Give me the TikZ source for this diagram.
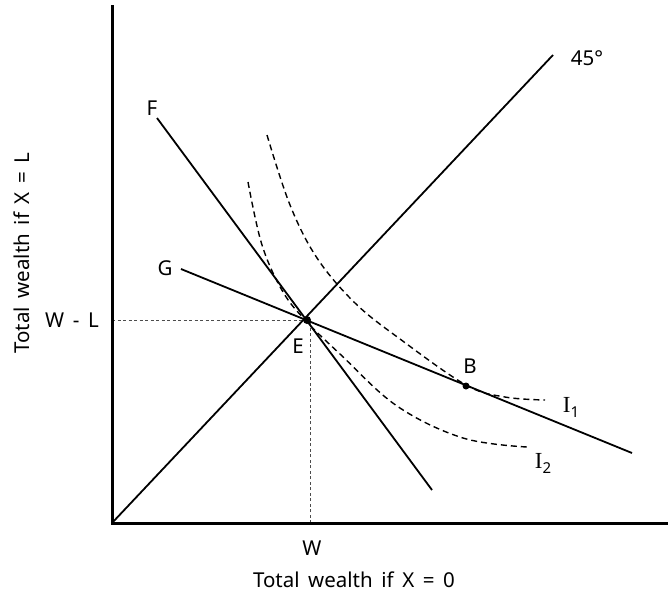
\documentclass[tikz,border=0pt]{standalone}
\usepackage{fontspec}
\setmainfont{Noto Sans}
\newfontfamily\serifI{Liberation Serif}
\newcommand\mylblfont{\fontsize{20.5}{24}\selectfont\spaceskip=0.42em\relax}
\begin{document}
\begin{tikzpicture}[x=1pt,y=-1pt,
  axis/.style={line width=3pt},
  ln/.style={line width=1.8pt},
  guide/.style={line width=1pt, dash pattern=on 3pt off 2.5pt, gray!60!black},
  icurve/.style={line width=1.4pt, dash pattern=on 6pt off 4pt},
  lbl/.style={font=\mylblfont, inner sep=0pt},
  dot/.style={circle, fill=black, inner sep=0pt, minimum size=8pt}]
\useasboundingbox (0,0) rectangle (668,595);
% coordinates
\coordinate (O) at (112,523);
\coordinate (Ytop) at (112,5);
\coordinate (Xend) at (668,523);
\coordinate (D45) at (553,55);
\coordinate (Fs) at (157,118);
\coordinate (Fe) at (432,490);
\coordinate (Gs) at (181,269);
\coordinate (Ge) at (632,453);
\coordinate (WLy) at (112,320);
\coordinate (Wx) at (310,523);
\node[dot] (E) at (307,320) {};
\node[dot, minimum size=7pt] (B) at (466,386) {};
% guides
\draw[guide] (WLy) -- (E.center);
\draw[guide] (Wx) -- (310,320);
% axes
\draw[axis] (Ytop) -- (O) -- (Xend);
% lines
\draw[ln] (O) -- (D45);
\draw[ln] (Fs) -- (Fe);
\draw[ln] (Gs) -- (Ge);
% indifference curves
\draw[icurve] plot[smooth, tension=0.6] coordinates {(248,182) (262,245) (283,292) (307,322) (340,354) (397,406) (463,438) (527,447)};
\draw[icurve] plot[smooth, tension=0.6] coordinates {(267,135) (290,205) (317,258) (355,303) (400,339) (466,385) (505,397) (545,400)};
% labels
\node[lbl] (l45) at (587,58) {45°};
\node[lbl] (lF) at (152,108) {F};
\node[lbl] (lG) at (165,268) {G};
\node[lbl] (lWL) at (72,320) {W - L};
\node[lbl] (lE) at (298,346) {E};
\node[lbl] (lB) at (470,366) {B};
\node[lbl] (lI1) at (571,407) {{\serifI\fontsize{23}{26}\selectfont I}\raisebox{-5pt}{\fontsize{15}{18}\selectfont 1}};
\node[lbl] (lI2) at (543,463) {{\serifI\fontsize{23}{26}\selectfont I}\raisebox{-5pt}{\fontsize{15}{18}\selectfont 2}};
\node[lbl] (lW) at (312,548) {W};
\node[lbl] (lx) at (354,580) {Total wealth if X = 0};
\node[lbl, rotate=90] (ly) at (22,253) {Total wealth if X = L};
\end{tikzpicture}
\end{document}
